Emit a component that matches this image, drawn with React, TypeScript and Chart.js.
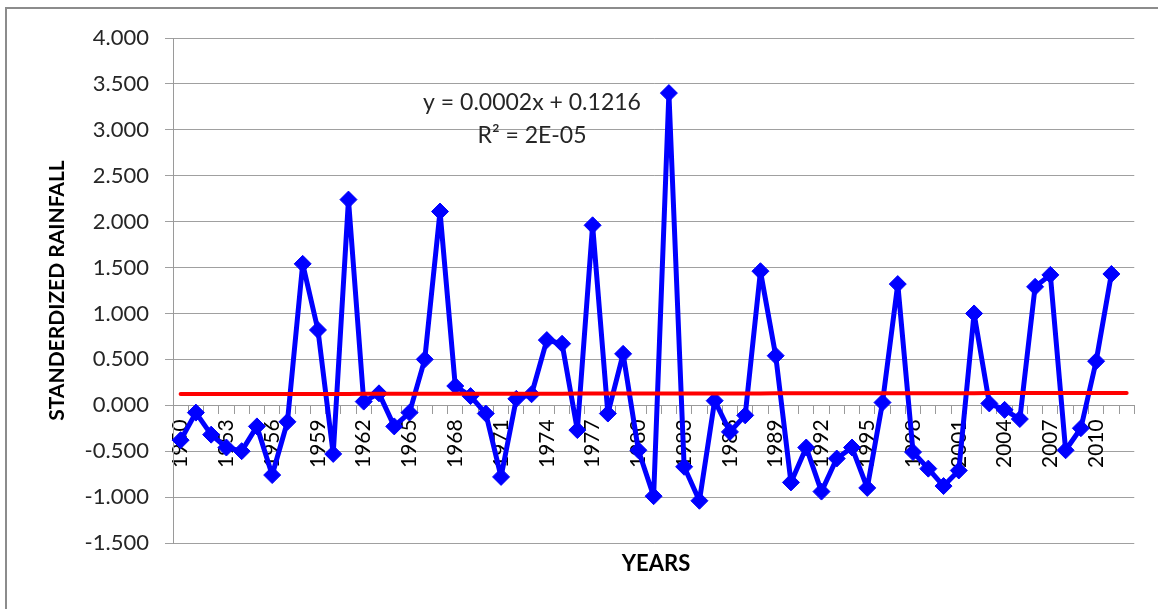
import React, { useEffect, useRef } from 'react';
import { Chart, registerables } from 'chart.js';

Chart.register(...registerables);

// Category axis (years); the last category (2012) carries no observation
const years: string[] = [
  '1950', '1951', '1952', '1953', '1954', '1955', '1956', '1957', '1958', '1959',
  '1960', '1961', '1962', '1963', '1964', '1965', '1966', '1967', '1968', '1969',
  '1970', '1971', '1972', '1973', '1974', '1975', '1976', '1977', '1978', '1979',
  '1980', '1981', '1982', '1983', '1984', '1985', '1986', '1987', '1988', '1989',
  '1990', '1991', '1992', '1993', '1994', '1995', '1996', '1997', '1998', '1999',
  '2000', '2001', '2002', '2003', '2004', '2005', '2006', '2007', '2008', '2009',
  '2010', '2011', '2012',
];

// Standardized rainfall, 1950-2011
const rainfall: number[] = [
  -0.38, -0.08, -0.32, -0.46, -0.50, -0.23, -0.76, -0.18, 1.54, 0.82,
  -0.53, 2.24, 0.04, 0.13, -0.23, -0.08, 0.50, 2.11, 0.21, 0.10,
  -0.09, -0.78, 0.07, 0.12, 0.71, 0.67, -0.27, 1.96, -0.09, 0.56,
  -0.49, -0.99, 3.40, -0.67, -1.04, 0.05, -0.29, -0.11, 1.46, 0.54,
  -0.84, -0.46, -0.94, -0.58, -0.46, -0.90, 0.03, 1.32, -0.51, -0.69,
  -0.88, -0.71, 1.00, 0.02, -0.05, -0.15, 1.29, 1.42, -0.49, -0.25,
  0.48, 1.43,
];

// Linear trend as printed on the chart: y = 0.0002x + 0.1216
const trendSlope = 0.0002;
const trendIntercept = 0.1216;
const equationLines: string[] = ['y = 0.0002x + 0.1216', 'R² = 2E-05'];

const yTitle = 'STANDERDIZED RAINFALL';
const xTitle = 'YEARS';
const labelEvery = 3;

const FONT = 'Lato';

const textPlugin = {
  id: 'textPlugin',
  afterDraw(chart: any) {
    const ctx = chart.ctx;
    ctx.save();
    ctx.textAlign = 'center';
    ctx.textBaseline = 'middle';
    ctx.fillStyle = '#000000';
    ctx.font = `bold 22px ${FONT}`;
    ctx.fillText(xTitle, 656, 564);
    ctx.fillStyle = '#262626';
    ctx.font = `23px ${FONT}`;
    ctx.fillText(equationLines[0], 532, 103);
    ctx.fillText(equationLines[1], 532, 136);
    ctx.restore();
  },
};

export default function App() {
  const ref = useRef<HTMLCanvasElement | null>(null);

  useEffect(() => {
    if (!ref.current) return;
    const trend = years.map((_, i) => trendIntercept + trendSlope * (i + 1));
    const chart = new Chart(ref.current, {
      type: 'line',
      data: {
        labels: years,
        datasets: [
          {
            label: 'Trend',
            data: trend,
            borderColor: '#ff0000',
            borderWidth: 4,
            borderCapStyle: 'round',
            pointRadius: 0,
            fill: false,
            order: 0,
          },
          {
            label: 'Standardized rainfall',
            data: rainfall,
            borderColor: '#0000ff',
            backgroundColor: '#0000ff',
            borderWidth: 5,
            borderJoinStyle: 'round',
            borderCapStyle: 'round',
            pointStyle: 'rectRot',
            pointRadius: 8.5,
            pointBorderWidth: 1,
            pointBackgroundColor: '#0000ff',
            pointBorderColor: '#0000ff',
            fill: false,
            tension: 0,
            order: 1,
          },
        ],
      },
      options: {
        responsive: false,
        animation: false,
        layout: { padding: { left: 0, right: 19, top: 38, bottom: 66 } },
        plugins: {
          legend: { display: false },
          tooltip: { enabled: false },
        },
        scales: {
          x: {
            type: 'category',
            position: { y: 0 } as any,
            offset: true,
            grid: {
              display: true,
              drawOnChartArea: false,
              drawTicks: true,
              tickLength: 8,
              offset: true,
              color: '#9a9a9a',
            },
            border: { display: true, color: '#9a9a9a', width: 1 },
            ticks: {
              autoSkip: false,
              minRotation: 90,
              maxRotation: 90,
              padding: 6,
              color: '#000000',
              font: { family: FONT, size: 21 },
              callback: (_v: any, idx: number) => (idx % labelEvery === 0 ? years[idx] : ''),
            },
          },
          y: {
            min: -1.5,
            max: 4,
            afterFit: (s: any) => {
              s.width = 173;
            },
            ticks: {
              stepSize: 0.5,
              padding: 16,
              color: '#262626',
              font: { family: FONT, size: 22 },
              callback: (v: any) => Number(v).toFixed(3),
            },
            grid: { color: '#a0a0a0', tickLength: 8, drawTicks: true },
            border: { display: true, color: '#9a9a9a', width: 1 },
            title: {
              display: true,
              text: yTitle,
              color: '#000000',
              font: { family: FONT, size: 21, weight: 'bold' },
              padding: { top: 45, bottom: 0 },
            },
          },
        },
      },
      plugins: [textPlugin],
    });
    return () => chart.destroy();
  }, []);

  return (
    <div style={{ position: 'absolute', left: 0, top: 0, width: 1158, height: 609, overflow: 'hidden', background: '#ffffff' }}>
      <div
        style={{
          position: 'absolute',
          left: 5,
          top: 7,
          width: 1300,
          height: 800,
          borderTop: '2px solid #8c8c8c',
          borderLeft: '2px solid #8c8c8c',
        }}
      />
      <canvas ref={ref} width={1158} height={609} style={{ position: 'absolute', left: 0, top: 0, display: 'block' }} />
    </div>
  );
}
